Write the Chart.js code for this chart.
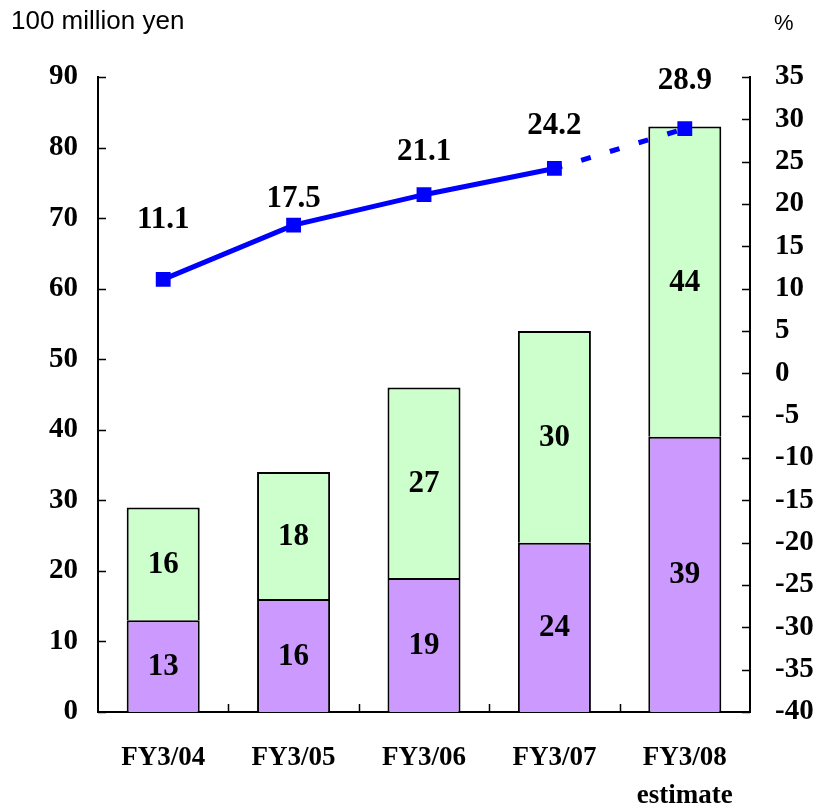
<!DOCTYPE html>
<html>
<head>
<meta charset="utf-8">
<script src="https://cdn.jsdelivr.net/npm/chart.js@4/dist/chart.umd.min.js"></script>
<style>
  html, body { margin: 0; padding: 0; background: #fff; }
  #wrap { width: 819px; height: 808px; }
</style>
</head>
<body>
<div id="wrap"><canvas id="c" width="819" height="808"></canvas></div>
<script>
// Categories (fiscal years); the last one is a forecast
const categories = [['FY3/04'], ['FY3/05'], ['FY3/06'], ['FY3/07'], ['FY3/08', 'estimate']];
const estimateIndex = 4;

// Stacked bar values (100 million yen)
const lowerSeries = [13, 16, 19, 24, 39];
const upperSeries = [16, 18, 27, 30, 44];

// Ratio line (%), plotted on the right axis
const ratioSeries = [11.1, 17.5, 21.1, 24.2, 28.9];

// Axis ranges and tick steps
const leftAxis = { min: 0, max: 90, step: 10 };
const rightAxis = { min: -40, max: 35, step: 5 };

// Vertical lift of each ratio label above its marker (px)
const ratioLabelLift = [59, 26, 43, 42, 48];

const SERIF = '"Liberation Serif", "Times New Roman", serif';
const SANS = '"Liberation Sans", Arial, sans-serif';

// Inward tick marks on all three axes
const innerTicks = {
  id: 'innerTicks',
  beforeDatasetsDraw(chart) {
    const { ctx, chartArea: a, scales } = chart;
    const len = 8;
    ctx.save();
    ctx.strokeStyle = '#000';
    ctx.lineWidth = 1.5;
    ctx.beginPath();
    scales.y.ticks.forEach(t => {
      const py = Math.round(scales.y.getPixelForValue(t.value)) + 0.5;
      ctx.moveTo(a.left, py); ctx.lineTo(a.left + len, py);
    });
    scales.y1.ticks.forEach(t => {
      const py = Math.round(scales.y1.getPixelForValue(t.value)) + 0.5;
      ctx.moveTo(a.right - len, py); ctx.lineTo(a.right, py);
    });
    for (let i = 0; i < categories.length - 1; i++) {
      const px = Math.round((scales.x.getPixelForValue(i) + scales.x.getPixelForValue(i + 1)) / 2) + 0.5;
      ctx.moveTo(px, a.bottom); ctx.lineTo(px, a.bottom - len);
    }
    ctx.stroke();
    ctx.restore();
  }
};

// Value labels inside the bar segments and above the line markers, plus axis unit captions
const valueLabels = {
  id: 'valueLabels',
  afterDatasetsDraw(chart) {
    const { ctx } = chart;
    ctx.save();
    ctx.fillStyle = '#000';
    ctx.textAlign = 'center';
    ctx.textBaseline = 'middle';
    ctx.font = 'bold 31px ' + SERIF;
    [0, 1].forEach(di => {
      const ds = chart.data.datasets[di];
      chart.getDatasetMeta(di).data.forEach((el, i) => {
        ctx.fillText(String(ds.data[i]), el.x, (el.y + el.base) / 2 + 1);
      });
    });
    const lineDs = chart.data.datasets[2];
    chart.getDatasetMeta(2).data.forEach((el, i) => {
      ctx.fillText(lineDs.data[i].toFixed(1), el.x, el.y - ratioLabelLift[i]);
    });
    ctx.textAlign = 'left';
    ctx.font = '26px ' + SANS;
    ctx.fillText('100 million yen', 11, 22);
    ctx.font = '22px ' + SANS;
    ctx.fillText('%', 774, 24);
    ctx.restore();
  }
};

new Chart(document.getElementById('c'), {
  data: {
    labels: categories,
    datasets: [
      {
        type: 'bar',
        data: lowerSeries,
        backgroundColor: '#CC99FF',
        borderColor: '#000',
        borderWidth: 2,
        borderSkipped: 'start',
        yAxisID: 'y',
        stack: 's',
        order: 2
      },
      {
        type: 'bar',
        data: upperSeries,
        backgroundColor: '#CCFFCC',
        borderColor: '#000',
        borderWidth: 2,
        borderSkipped: 'start',
        yAxisID: 'y',
        stack: 's',
        order: 2
      },
      {
        type: 'line',
        data: ratioSeries,
        yAxisID: 'y1',
        borderColor: '#0000FF',
        backgroundColor: '#0000FF',
        borderWidth: 5,
        pointStyle: 'rect',
        pointRadius: 10.5,
        pointBorderWidth: 0,
        pointBackgroundColor: '#0000FF',
        tension: 0,
        order: 0,
        segment: {
          borderDash: c => c.p1DataIndex === estimateIndex ? [10, 20] : undefined,
          borderDashOffset: c => c.p1DataIndex === estimateIndex ? 2 : 0
        }
      }
    ]
  },
  options: {
    responsive: false,
    animation: false,
    devicePixelRatio: 1,
    layout: { padding: { top: 77, left: 0, right: 0, bottom: 0 } },
    plugins: {
      legend: { display: false },
      tooltip: { enabled: false },
      title: { display: false }
    },
    datasets: {
      bar: { categoryPercentage: 1, barPercentage: 0.56 }
    },
    scales: {
      x: {
        stacked: true,
        grid: { display: false, drawTicks: false },
        border: { display: true, color: '#000', width: 2 },
        ticks: {
          color: '#000',
          font: { family: SERIF, size: 27, weight: 'bold', lineHeight: 1.4 },
          padding: 27,
          maxRotation: 0,
          autoSkip: false
        },
        afterFit(s) { s.height = 96; }
      },
      y: {
        position: 'left',
        stacked: true,
        min: leftAxis.min,
        max: leftAxis.max,
        grid: { display: false, drawTicks: false },
        border: { display: true, color: '#000', width: 2 },
        ticks: {
          stepSize: leftAxis.step,
          color: '#000',
          font: { family: SERIF, size: 29, weight: 'bold' },
          padding: 20
        },
        afterFit(s) { s.width = 98; }
      },
      y1: {
        position: 'right',
        min: rightAxis.min,
        max: rightAxis.max,
        grid: { display: false, drawTicks: false },
        border: { display: true, color: '#000', width: 2 },
        ticks: {
          stepSize: rightAxis.step,
          color: '#000',
          font: { family: SERIF, size: 29, weight: 'bold' },
          padding: 25
        },
        afterFit(s) { s.width = 69; }
      }
    }
  },
  plugins: [innerTicks, valueLabels]
});
</script>
</body>
</html>
